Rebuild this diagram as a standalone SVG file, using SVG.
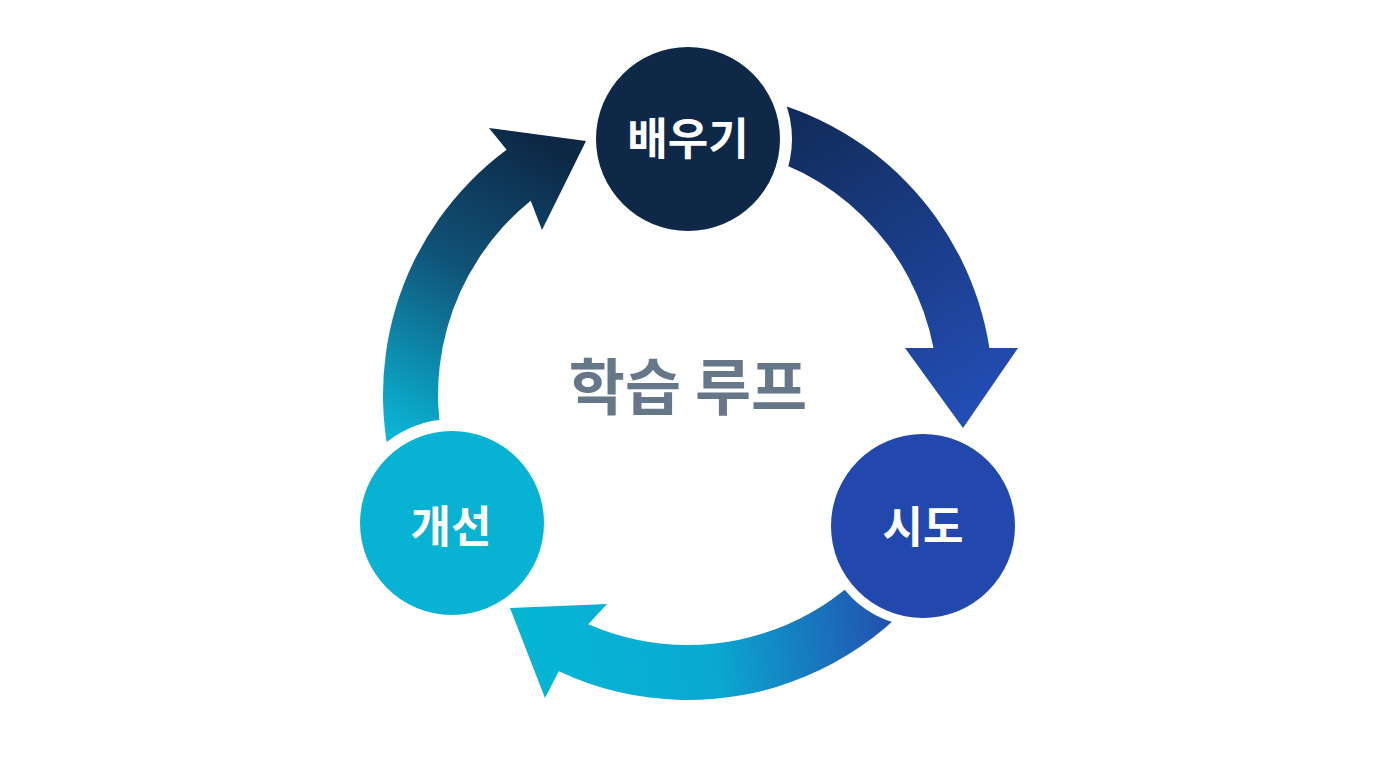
<svg xmlns="http://www.w3.org/2000/svg" width="1376" height="768" viewBox="0 0 1376 768">
<style>
.lbl{font-family:"Noto Sans CJK KR","Noto Sans",sans-serif;font-weight:700;font-size:44px;fill:#ffffff;text-anchor:middle;dominant-baseline:central}
.title{font-family:"Noto Sans CJK KR","Noto Sans",sans-serif;font-weight:700;font-size:61px;fill:#66778a;text-anchor:middle;dominant-baseline:central}
</style>
<defs>
<linearGradient id="gR" gradientUnits="userSpaceOnUse" x1="790" y1="120" x2="970" y2="410">
<stop offset="0" stop-color="#112c5a"/><stop offset="1" stop-color="#234db4"/>
</linearGradient>
<linearGradient id="gL" gradientUnits="userSpaceOnUse" x1="400" y1="440" x2="560" y2="150">
<stop offset="0" stop-color="#0ab6d6"/><stop offset="0.55" stop-color="#105277"/><stop offset="1" stop-color="#0d2745"/>
</linearGradient>
<linearGradient id="gB" gradientUnits="userSpaceOnUse" x1="890" y1="610" x2="560" y2="660">
<stop offset="0" stop-color="#2350ae"/><stop offset="0.55" stop-color="#0aa9d2"/><stop offset="1" stop-color="#06b4d4"/>
</linearGradient>
<mask id="mR" maskUnits="userSpaceOnUse" x="0" y="0" width="1376" height="768">
<rect width="1376" height="768" fill="#fff"/><circle cx="688" cy="139" r="104" fill="#000"/>
</mask>
<mask id="mL" maskUnits="userSpaceOnUse" x="0" y="0" width="1376" height="768">
<rect width="1376" height="768" fill="#fff"/><circle cx="452" cy="523" r="104" fill="#000"/>
</mask>
<mask id="mB" maskUnits="userSpaceOnUse" x="0" y="0" width="1376" height="768">
<rect width="1376" height="768" fill="#fff"/><circle cx="923" cy="526" r="101" fill="#000"/>
</mask>
</defs>
<rect width="1376" height="768" fill="#ffffff"/>
<g id="connectors">
<path id="arrow-learn-try" mask="url(#mR)" fill="url(#gR)" d="M 740.96 94.63 A 305 305 0 0 1 989.4 348 L 1018 348 L 963 428 L 905 348 L 933.5 348 A 250 250 0 0 0 731.41 148.8 Z"/>
<path id="arrow-try-improve" mask="url(#mB)" fill="url(#gB)" d="M 974.6 499.3 A 305 305 0 0 1 558.8 671.3 L 545 698 L 510 608 L 607 604 L 588.3 624.3 A 250 250 0 0 0 922.9 480.5 Z"/>
<path id="arrow-improve-learn" mask="url(#mL)" fill="url(#gL)" d="M 401.4 499.3 A 305 305 0 0 1 506.6 149.8 L 489 128 L 586 141 L 542 230 L 530.7 200.7 A 250 250 0 0 0 453.1 480.5 Z"/>
</g>
<g id="node-learn">
<circle cx="688" cy="139" r="92" fill="#0f2847"/>
<text class="lbl" x="688" y="136">배우기</text>
</g>
<g id="node-try">
<circle cx="923" cy="526" r="92" fill="#2248ad"/>
<text class="lbl" x="923" y="524">시도</text>
</g>
<g id="node-improve">
<circle cx="452" cy="523" r="92" fill="#08b2d2"/>
<text class="lbl" x="451" y="524">개선</text>
</g>
<g id="title">
<text class="title" x="688" y="383">학습 루프</text>
</g>
</svg>
